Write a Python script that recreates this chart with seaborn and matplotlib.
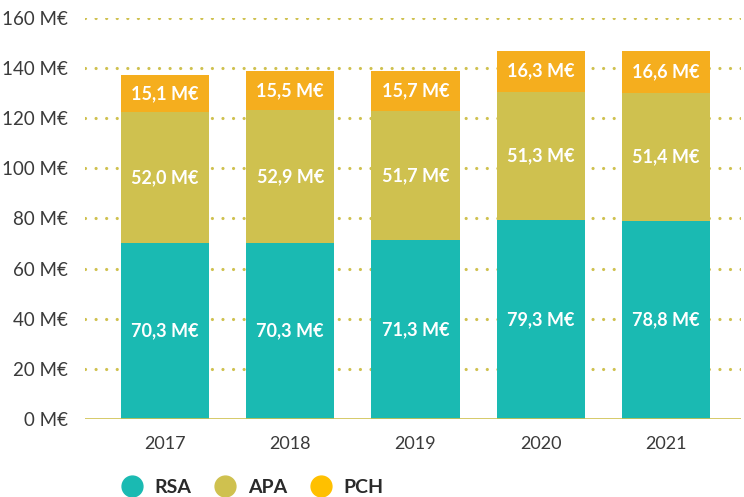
import pandas as pd
import seaborn as sns
import matplotlib
import matplotlib.pyplot as plt
from matplotlib.lines import Line2D

years = ['2017', '2018', '2019', '2020', '2021']
rsa = [70.3, 70.3, 71.3, 79.3, 78.8]
apa = [52.0, 52.9, 51.7, 51.3, 51.4]
pch = [15.1, 15.5, 15.7, 16.3, 16.6]
yticks = [0, 20, 40, 60, 80, 100, 120, 140, 160]

c_rsa = '#1abab2'
c_apa = '#cfc14f'
c_pch = '#f5ae1e'
c_text = '#3a3a3a'

df = pd.DataFrame({'year': years, 'RSA': rsa, 'APA': apa, 'PCH': pch})
df['top_apa'] = df['RSA'] + df['APA']
df['total'] = df['top_apa'] + df['PCH']

sns.set_style('white')
plt.rcParams['font.family'] = ['Lato', 'DejaVu Sans']

fig = plt.figure(figsize=(7.44, 4.97), dpi=100)
ax = fig.add_axes([0.114, 0.157, 0.882, 0.807])

# stacked bars, drawn back to front
for col, c in (('total', c_pch), ('top_apa', c_apa), ('RSA', c_rsa)):
    sns.barplot(data=df, x='year', y=col, color=c, width=0.705, saturation=1,
                linewidth=0, edgecolor='none', ax=ax, zorder=3)

def fmt(v):
    return f'{v:.1f} M€'.replace('.', ',')

for i in range(len(years)):
    mids = [rsa[i] / 2, rsa[i] + apa[i] / 2, rsa[i] + apa[i] + pch[i] / 2]
    for y, v in zip(mids, (rsa[i], apa[i], pch[i])):
        ax.text(i, y, fmt(v), ha='center', va='center', color='white',
                fontsize=13, fontweight='bold', zorder=4)

# dotted gridlines
for t in yticks[1:]:
    ax.axhline(t, color=c_apa, lw=2.3, ls=(0, (0.01, 3.3)), dash_capstyle='round', zorder=1)
ax.axhline(0, color=c_apa, lw=1.2, zorder=5)

ax.set_ylim(0, 160)
ax.set_xlim(-0.64, 4.6)
ax.set_yticks(yticks)
ax.set_yticklabels([f'{t} M€' for t in yticks])
ax.set_xlabel('')
ax.set_ylabel('')
ax.tick_params(axis='y', length=0, pad=12, labelsize=13.5, labelcolor=c_text)
ax.tick_params(axis='x', length=0, pad=12, labelsize=13, labelcolor=c_text)
sns.despine(ax=ax, left=True, bottom=True)

handles = [Line2D([], [], ls='', marker='o', ms=15, color=c) for c in (c_rsa, c_apa, '#ffc000')]
leg = fig.legend(handles, ['RSA', 'APA', 'PCH'], loc='center left', bbox_to_anchor=(0.128, 0.02),
                 ncol=3, frameon=False, handletextpad=0.15, columnspacing=0.75,
                 prop={'size': 14, 'weight': 'bold'})
for t in leg.get_texts():
    t.set_color('#2a2a2a')

plt.savefig('out.png', dpi=100)
